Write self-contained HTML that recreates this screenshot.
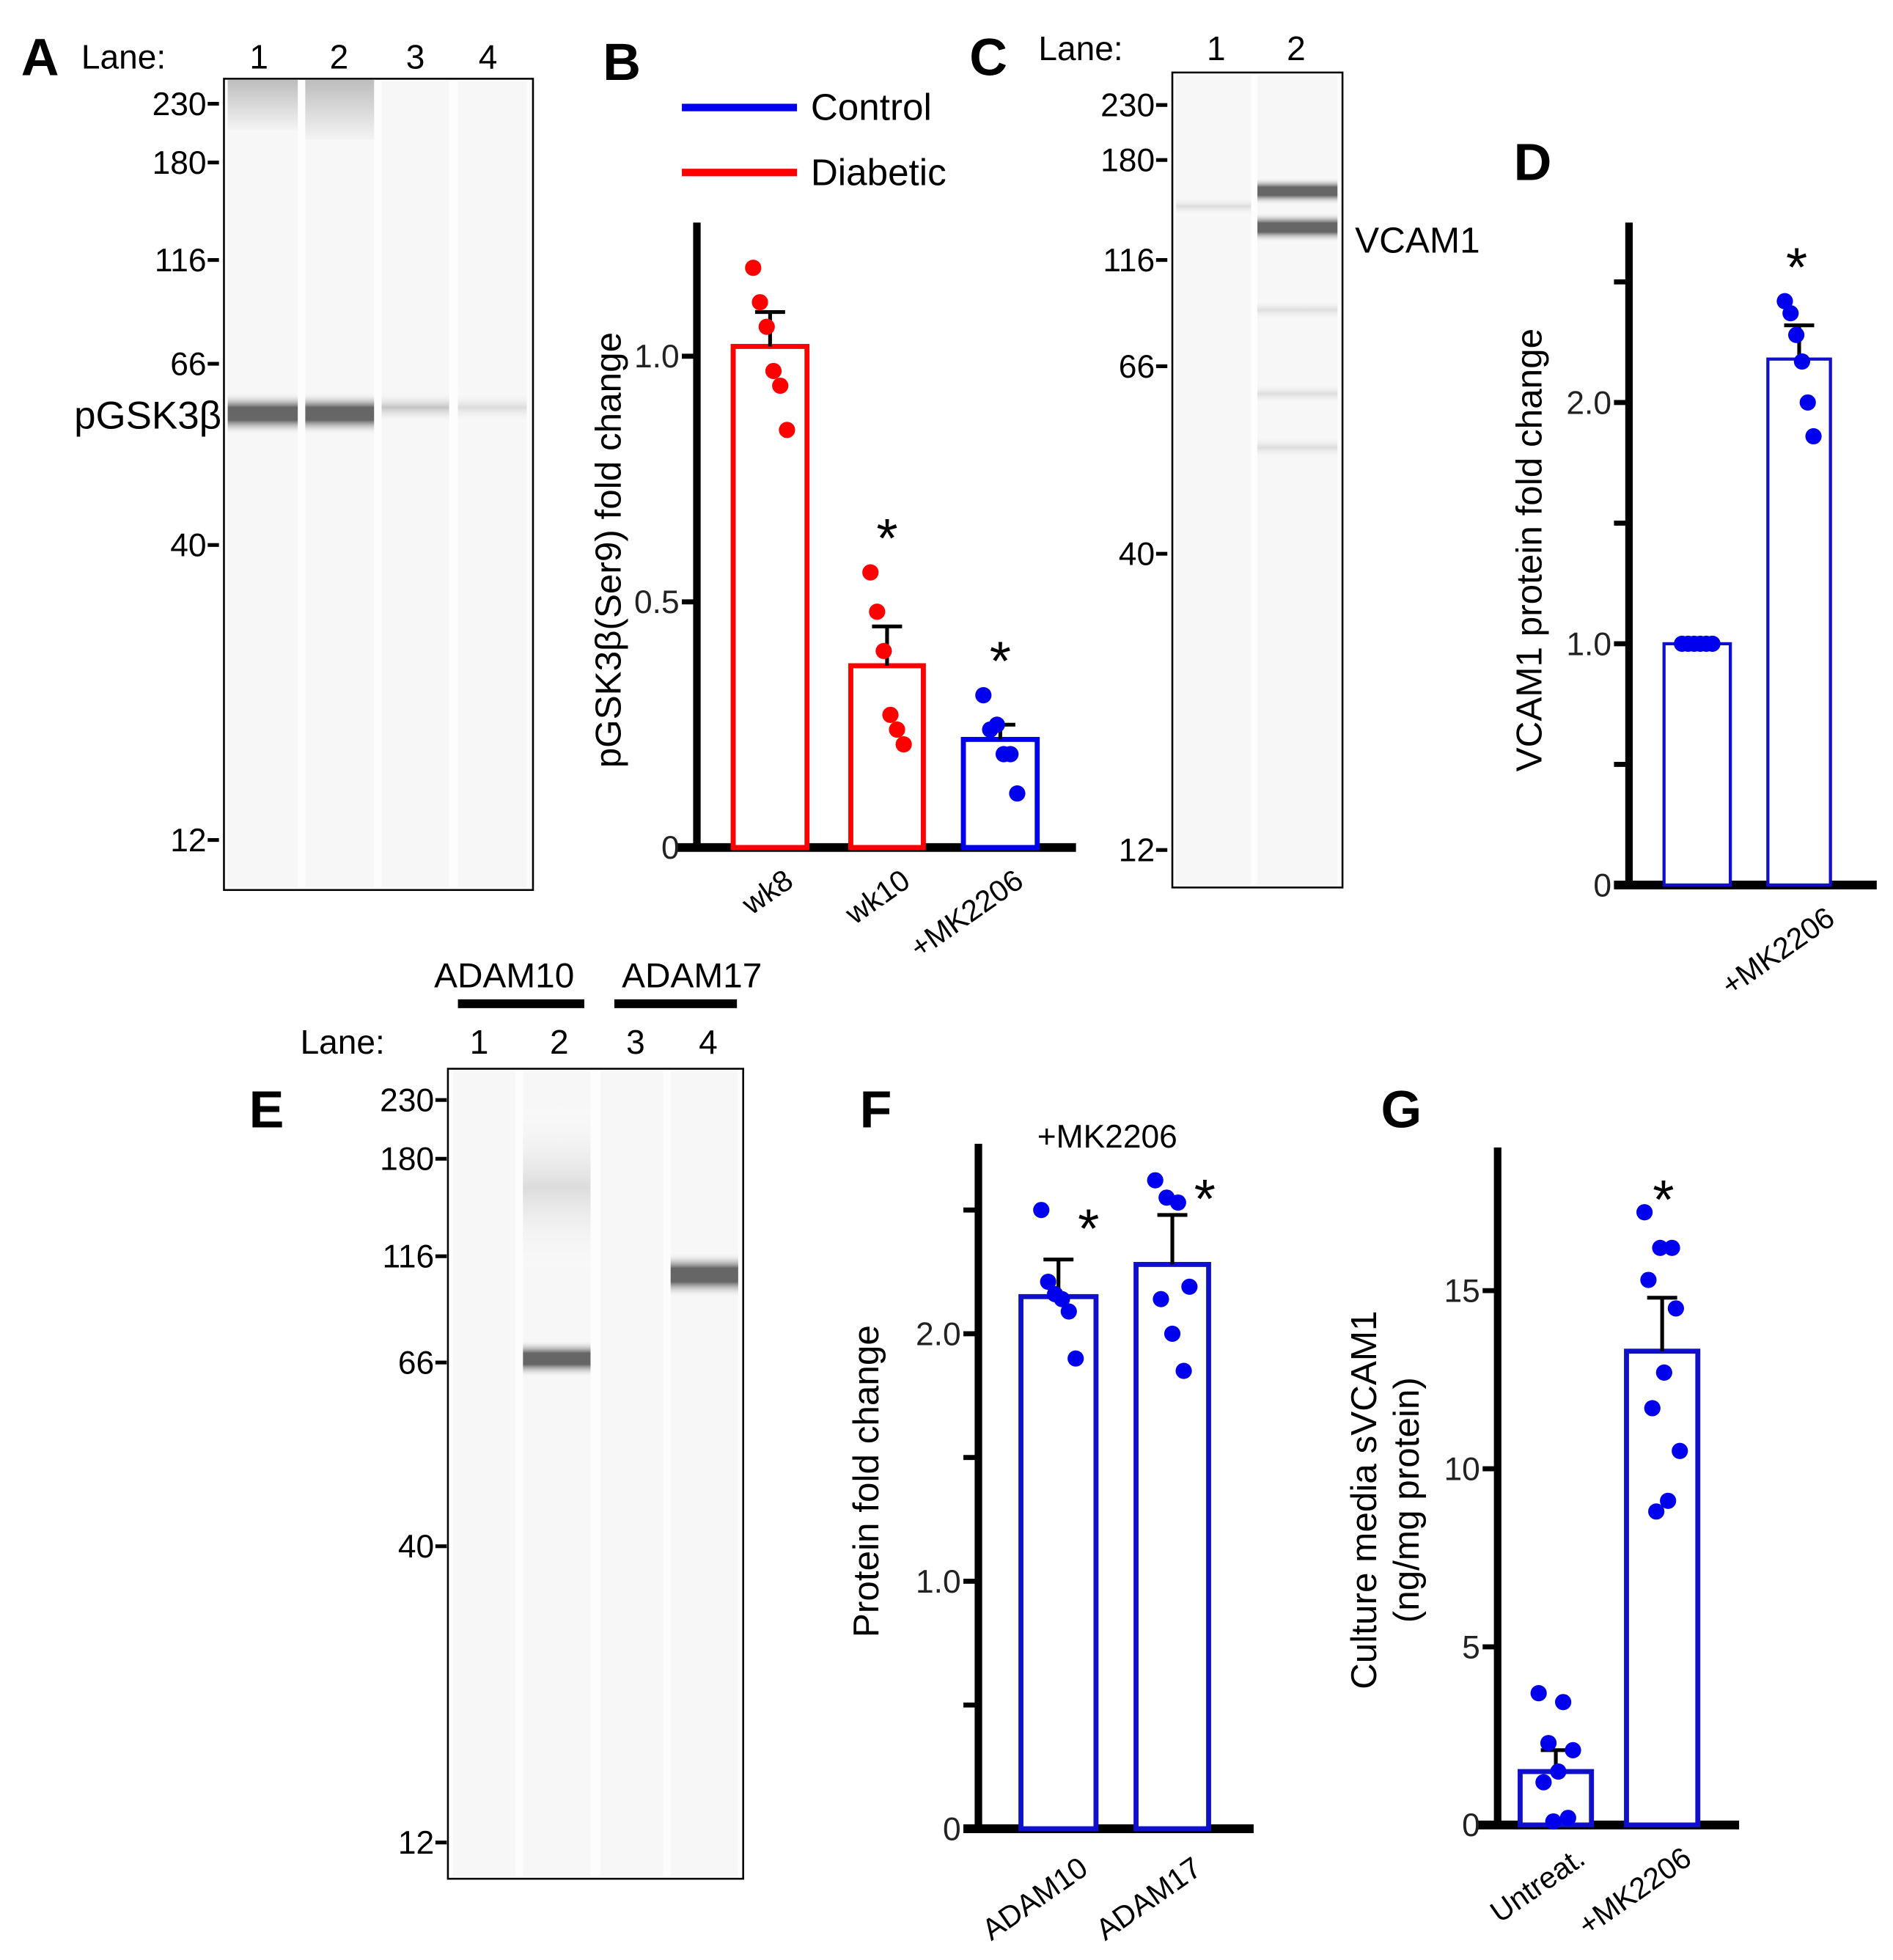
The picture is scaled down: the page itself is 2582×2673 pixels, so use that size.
<!DOCTYPE html>
<html><head><meta charset="utf-8"><style>
html,body{margin:0;padding:0;background:#fff;}
svg{display:block;font-family:"Liberation Sans",Arial,sans-serif;}
</style></head><body>
<svg id="fig" width="2582" height="2673" viewBox="0 0 1513 1568" preserveAspectRatio="none" xmlns="http://www.w3.org/2000/svg">
<defs>
<linearGradient id="bandDark" x1="0" y1="0" x2="0" y2="1"><stop offset="0" stop-color="#fff" stop-opacity="0"/><stop offset="0.35" stop-color="#666"/><stop offset="0.65" stop-color="#666"/><stop offset="1" stop-color="#fff" stop-opacity="0"/></linearGradient>
<linearGradient id="bandLight" x1="0" y1="0" x2="0" y2="1"><stop offset="0" stop-color="#fff" stop-opacity="0"/><stop offset="0.5" stop-color="#c4c4c4"/><stop offset="1" stop-color="#fff" stop-opacity="0"/></linearGradient>
<linearGradient id="bandFaint" x1="0" y1="0" x2="0" y2="1"><stop offset="0" stop-color="#fff" stop-opacity="0"/><stop offset="0.5" stop-color="#dcdcdc"/><stop offset="1" stop-color="#fff" stop-opacity="0"/></linearGradient>
<linearGradient id="smear" x1="0" y1="0" x2="0" y2="1"><stop offset="0" stop-color="#bdbdbd"/><stop offset="1" stop-color="#f4f4f4"/></linearGradient>
</defs>
<g id="root"></g>
</svg>
<script>
// ---- data ----
var bCats=["wk8","wk10","+MK2206"];
var bMeans=[1.02,0.37,0.22];
var bErr=[1.09,0.45,0.25];
var bDots=[[1.18,1.11,1.06,0.97,0.94,0.85],[0.56,0.48,0.40,0.27,0.24,0.21],[0.31,0.24,0.25,0.19,0.19,0.11]];
var bTicks=[0,0.5,1.0];
var bTickLabels=["0","0.5","1.0"];
var dCats=["","+MK2206"];
var dMeans=[1.0,2.18];
var dErr=[1.0,2.32];
var dDots=[[1,1,1,1,1,1],[2.42,2.37,2.28,2.17,2.0,1.86]];
var dTicks=[0,0.5,1.0,1.5,2.0,2.5];
var dTickLabels=["0","","1.0","","2.0",""];
var fCats=["ADAM10","ADAM17"];
var fMeans=[2.15,2.28];
var fErr=[2.3,2.48];
var fDots=[[2.5,2.21,2.16,2.14,2.09,1.9],[2.62,2.55,2.53,2.19,2.14,2.0,1.85]];
var fTicks=[0,0.5,1.0,1.5,2.0,2.5];
var fTickLabels=["0","","1.0","","2.0",""];
var gCats=["Untreat.","+MK2206"];
var gMeans=[1.5,13.3];
var gErr=[2.1,14.8];
var gDots=[[3.7,3.45,2.3,2.1,1.5,1.2,0.2,0.1],[17.2,16.2,16.2,15.3,14.5,12.7,11.7,10.5,9.1,8.8]];
var gTicks=[0,5,10,15];
var gTickLabels=["0","5","10","15"];

var NS="http://www.w3.org/2000/svg";
var root=document.getElementById('root');
function mk(tag,attrs,parent,txt){var e=document.createElementNS(NS,tag);for(var k in attrs)e.setAttribute(k,attrs[k]);if(txt!==undefined)e.textContent=txt;(parent||root).appendChild(e);return e;}

function panelLetter(t,x,y){var e=mk('text',{x:x,y:y,'font-size':42,'font-weight':'bold','text-anchor':'middle'},root,t);

}

// ---- blots ----
function blot(id,box,markers,labelX,lanes,laneNums,laneNumY,lanesLbl){
  var g=mk('g',{});
  
  
  mk('rect',{x:box[0],y:box[1],width:box[2]-box[0],height:box[3]-box[1],fill:'#fdfdfd',stroke:'#000','stroke-width':1.5},g);
  lanes.forEach(function(l){mk('rect',{x:l[0],y:box[1]+2,width:l[1]-l[0],height:box[3]-box[1]-4,fill:'#f7f7f7'},g);});
  markers.forEach(function(m){
    var t=mk('text',{x:labelX,y:m[1]+9,'font-size':26,'text-anchor':'end'},g,m[0]);
    
    
    mk('line',{x1:labelX+1,x2:labelX+10,y1:m[1],y2:m[1],stroke:'#000','stroke-width':3},g);
  });
  var ll=mk('text',{x:lanesLbl[0],y:laneNumY,'font-size':27},g,'Lane:');
  
  
  laneNums.forEach(function(x,i){var t=mk('text',{x:x,y:laneNumY,'font-size':27,'text-anchor':'middle'},g,String(i+1));
    
    });
  return g;
}
function band(g,x1,x2,y,h,fill,name){var r=mk('rect',{x:x1,y:y-h/2,width:x2-x1,height:h,fill:fill},g);
  
  }

// A
panelLetter('A',32,60);
var lanesA=[[182,238],[244,299],[305,359],[366,421]];
var gA=blot('blot-a',[179,63,426,712],[['230',83],['180',130],['116',208],['66',291],['40',436],['12',672]],165,lanesA,[207,271,332,390],55,[65]);
band(gA,182,238,84,40,'url(#smear)','smear-lane1');
band(gA,244,299,88,48,'url(#smear)','smear-lane2');
band(gA,182,238,331,34,'url(#bandDark)','band-lane1');
band(gA,244,299,331,34,'url(#bandDark)','band-lane2');
band(gA,305,359,326,26,'url(#bandLight)','band-lane3');
band(gA,366,421,326,26,'url(#bandFaint)','band-lane4');
var pl=mk('text',{x:177,y:343,'font-size':31,'text-anchor':'end'},gA,'pGSK3β');



// C
panelLetter('C',790,60);
var gC=blot('blot-c',[937,58,1073,710],[['230',84],['180',128],['116',208],['66',293],['40',443],['12',680]],923,[[940,1000],[1005,1069]],[972,1036],48,[830]);
band(gC,1005,1069,153,22,'url(#bandDark)','band-upper');
band(gC,1005,1069,182,24,'url(#bandDark)','band-lower');
band(gC,940,1000,165,16,'url(#bandFaint)','band-lane1-faint');
band(gC,1005,1069,248,18,'url(#bandFaint)','band-faint-1');
band(gC,1005,1069,315,18,'url(#bandFaint)','band-faint-2');
band(gC,1005,1069,358,20,'url(#bandFaint)','band-faint-3');
var vl=mk('text',{x:1083,y:202,'font-size':29},gC,'VCAM1');



// E
panelLetter('E',213,902);
var gE=blot('blot-e',[358,855,594,1503],[['230',880],['180',927],['116',1005],['66',1090],['40',1237],['12',1474]],347,[[362,412],[418,472],[480,530],[536,590]],[383,447,508,566],843,[240]);
band(gE,418,472,950,140,'url(#bandFaint)','smear-lane2');
band(gE,418,472,1087,30,'url(#bandDark)','band-adam10');
band(gE,536,590,1020,36,'url(#bandDark)','band-adam17');
[['ADAM10',403,366,467],['ADAM17',553,491,589]].forEach(function(a){
  var t=mk('text',{x:a[1],y:790,'font-size':28,'text-anchor':'middle'},root,a[0]);
  
  
  var l=mk('line',{x1:a[2],x2:a[3],y1:803,y2:803,stroke:'#000','stroke-width':7});
  
  
});

// ---- bar charts ----
function barChart(o){
  var g=mk('g',{});
  
  
  var ys=function(v){return o.y0-(v-0)*o.unit;};
  mk('line',{x1:o.ax,x2:o.ax,y1:o.yTop,y2:o.y0+3,stroke:'#000','stroke-width':6},g);
  mk('line',{x1:o.xStart,x2:o.xEnd,y1:o.y0,y2:o.y0,stroke:'#000','stroke-width':7},g);
  o.ticks.forEach(function(t,i){
    var y=ys(t);
    mk('line',{x1:o.ax-12,x2:o.ax,y1:y,y2:y,stroke:'#000','stroke-width':4},g);
    if(o.tickLabels[i]){var tl=mk('text',{x:o.ax-14,y:y+9,'font-size':26,'text-anchor':'end',fill:'#222'},g,o.tickLabels[i]);
      
      }
  });
  o.cats.forEach(function(c,i){
    var x1=o.barX[i][0],x2=o.barX[i][1],cx=(x1+x2)/2,col=o.colors[i];
    var b=mk('rect',{x:x1,y:ys(o.means[i]),width:x2-x1,height:o.y0-ys(o.means[i]),fill:'#fff',stroke:col,'stroke-width':o.bw},g);
    
    
    if(o.err[i]>o.means[i]){
      mk('line',{x1:cx,x2:cx,y1:ys(o.err[i]),y2:ys(o.means[i]),stroke:'#000','stroke-width':3},g);
      mk('line',{x1:cx-12,x2:cx+12,y1:ys(o.err[i]),y2:ys(o.err[i]),stroke:'#000','stroke-width':3},g);
    }
    var d=o.dots[i],n=d.length;
    d.forEach(function(v,j){
      var off=((j*37)%n-(n-1)/2)/(n)*(x2-x1)*0.55;
      var p=mk('circle',{cx:cx+off,cy:ys(v),r:6.5,fill:o.dotColors[i]},g);
      
      
    });
    if(o.stars[i]){var s=mk('text',{x:cx+o.stars[i][0],y:ys(Math.max(o.err[i],Math.max.apply(null,d)))+o.stars[i][1],'font-size':44,'text-anchor':'middle'},g,'*');
      
      }
    if(c){var lx=cx+o.lblOff[0],ly=o.y0+o.lblOff[1];
      var tl=mk('text',{x:lx,y:ly,'font-size':24,'text-anchor':'end',transform:'rotate(-35 '+lx+' '+ly+')'},g,c);
      
      }
  });
  o.ylab.forEach(function(t,k){
    var yl=mk('text',{x:o.ylabX[k],y:o.ylabY,'font-size':29,'text-anchor':'middle',transform:'rotate(-90 '+o.ylabX[k]+' '+o.ylabY+')'},g,t);
    
    
  });
  return g;
}
var R='#ff0000',Bc='#0000ee',Bb='#1010cc';
panelLetter('B',497,64);
barChart({name:'chart-b',ax:557,yTop:178,y0:678,unit:393,xStart:540,xEnd:860,ticks:bTicks,tickLabels:bTickLabels,
  cats:bCats,means:bMeans,err:bErr,dots:bDots,barX:[[586,645],[680,738],[770,829]],colors:[R,R,Bc],dotColors:[R,R,Bc],bw:4,
  stars:[null,[0,-12],[0,-12]],lblOff:[20,30],ylab:['pGSK3β(Ser9) fold change'],ylabX:[496],ylabY:440});
// legend
[['Control',Bc,86],['Diabetic',R,138]].forEach(function(l){
  var ln=mk('line',{x1:545,x2:637,y1:l[2],y2:l[2],stroke:l[1],'stroke-width':6});
  
  
  var t=mk('text',{x:648,y:l[2]+10,'font-size':30},root,l[0]);
  
  
});
panelLetter('D',1225,144);
barChart({name:'chart-d',ax:1302,yTop:178,y0:708,unit:193,xStart:1290,xEnd:1500,ticks:dTicks,tickLabels:dTickLabels,
  cats:dCats,means:dMeans,err:dErr,dots:dDots,barX:[[1330,1383],[1413,1463]],colors:[Bb,Bb],dotColors:[Bc,Bc],bw:2.5,
  stars:[null,[-2,-12]],lblOff:[30,30],ylab:['VCAM1 protein fold change'],ylabX:[1232],ylabY:440});
panelLetter('F',700,902);
barChart({name:'chart-f',ax:782,yTop:915,y0:1463,unit:198,xStart:770,xEnd:1002,ticks:fTicks,tickLabels:fTickLabels,
  cats:fCats,means:fMeans,err:fErr,dots:fDots,barX:[[816,876],[908,966]],colors:[Bb,Bb],dotColors:[Bc,Bc],bw:4,
  stars:[[24,30],[26,30]],lblOff:[25,35],ylab:['Protein fold change'],ylabX:[702],ylabY:1185});
var mkl=mk('text',{x:885,y:918,'font-size':26,'text-anchor':'middle'},root,'+MK2206');


panelLetter('G',1120,902);
barChart({name:'chart-g',ax:1197,yTop:918,y0:1460,unit:28.5,xStart:1180,xEnd:1390,ticks:gTicks,tickLabels:gTickLabels,
  cats:gCats,means:gMeans,err:gErr,dots:gDots,barX:[[1215,1272],[1300,1357]],colors:[Bb,Bb],dotColors:[Bc,Bc],bw:4,
  stars:[null,[1,5]],lblOff:[25,30],ylab:['Culture media sVCAM1','(ng/mg protein)'],ylabX:[1100,1134],ylabY:1200});
</script>
</body></html>
